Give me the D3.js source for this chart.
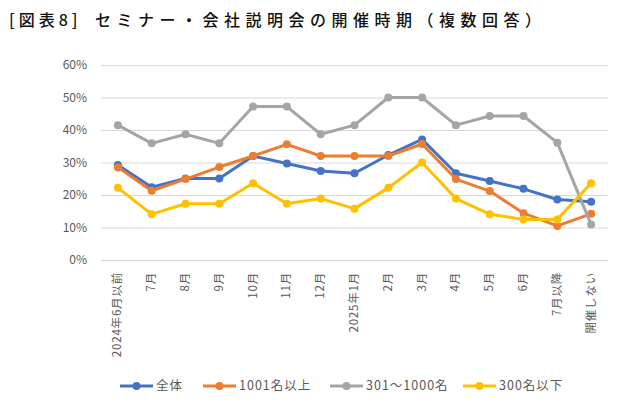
<!DOCTYPE html>
<html><head><meta charset="utf-8">
<script src="https://cdn.jsdelivr.net/npm/d3@7"></script>
<style>body{margin:0;background:#fff}svg{display:block}</style>
</head><body>
<svg id="c" width="634" height="405"></svg>
<script>
const categories = ["2024年6月以前","7月","8月","9月","10月","11月","12月","2025年1月","2月","3月","4月","5月","6月","7月以降","開催しない"];
const seriesNames = ["全体","1001名以上","301～1000名","300名以下"];
const seriesColors = ["#4472C4","#ED7D31","#A5A5A5","#FFC000"];
const valsAll   = [29.2,22.4,25.1,25.1,32.0,29.7,27.4,26.7,32.3,37.1,26.7,24.3,21.9,18.6,17.9];
const vals1001  = [28.5,21.3,24.9,28.6,32.0,35.6,32.0,32.0,32.0,35.7,24.9,21.2,14.4,10.5,14.2];
const vals301   = [41.5,35.9,38.7,35.9,47.2,47.2,38.7,41.5,50.0,50.0,41.5,44.3,44.3,36.1,10.9];
const vals300   = [22.2,14.1,17.3,17.3,23.6,17.3,18.9,15.8,22.2,30.0,18.9,14.1,12.5,12.5,23.6];
const yTicks = [0,10,20,30,40,50,60];
const titlePrefix = "[図表8]";
const titleMain = "セミナー・会社説明会の開催時期（複数回答）";

const allSeries = [valsAll, vals1001, vals301, vals300];
const svg = d3.select("#c");
const font = "'Noto Sans CJK JP', 'Noto Sans', sans-serif";

svg.append("text").attr("x",9).attr("y",26).attr("font-family",font)
  .attr("font-size",16).attr("font-weight",500).attr("letter-spacing",4).attr("fill","#111").text(titlePrefix);
svg.append("text").attr("x",95).attr("y",26).attr("font-family",font)
  .attr("font-size",16).attr("font-weight",500).attr("letter-spacing",5.5).attr("fill","#111").text(titleMain);

const L = 101, R = 608, T = 65, B = 260;
const x = d3.scalePoint().domain(categories).range([L,R]).padding(0.5);
const y = d3.scaleLinear().domain([0,60]).range([B,T]);

const yAxis = d3.axisLeft(y).tickValues(yTicks).tickSize(-(R-L)).tickFormat(d=>d+"%");
const gy = svg.append("g").attr("transform",`translate(${L},0)`).call(yAxis);
gy.select(".domain").remove();
gy.selectAll(".tick line").attr("stroke","#D9D9D9").attr("stroke-width",1);
gy.selectAll(".tick text").attr("x",-14).attr("fill","#595959").attr("font-size",12).attr("font-family",font);

const xAxis = d3.axisBottom(x).tickSize(0);
const gx = svg.append("g").attr("transform",`translate(0,${B})`).call(xAxis);
gx.select(".domain").remove();
gx.selectAll(".tick text").attr("transform","rotate(-90)").attr("text-anchor","end")
  .attr("x",-12).attr("y",-1).attr("dy","0.35em").attr("fill","#595959").attr("font-size",11.5)
  .attr("letter-spacing",0.8).attr("font-family",font);

const line = d3.line().x((d,i)=>x(categories[i])).y(d=>y(d));
allSeries.forEach((s,k)=>{
  const g = svg.append("g");
  g.append("path").datum(s).attr("d",line).attr("fill","none").attr("stroke",seriesColors[k])
    .attr("stroke-width",3).attr("stroke-linejoin","round");
  g.selectAll("circle").data(s).join("circle").attr("cx",(d,i)=>x(categories[i])).attr("cy",d=>y(d))
    .attr("r",4).attr("fill",seriesColors[k]);
});

const legX = [120,203,330,463];
const ly = 386;
seriesNames.forEach((n,k)=>{
  const g = svg.append("g");
  g.append("line").attr("x1",legX[k]).attr("x2",legX[k]+33).attr("y1",ly).attr("y2",ly)
    .attr("stroke",seriesColors[k]).attr("stroke-width",3);
  g.append("circle").attr("cx",legX[k]+16.5).attr("cy",ly).attr("r",4).attr("fill",seriesColors[k]);
  g.append("text").attr("x",legX[k]+36).attr("y",ly).attr("dy","0.35em").attr("fill","#595959")
    .attr("font-size",12.5).attr("letter-spacing",1).attr("font-family",font).text(n);
});
</script>
</body></html>
